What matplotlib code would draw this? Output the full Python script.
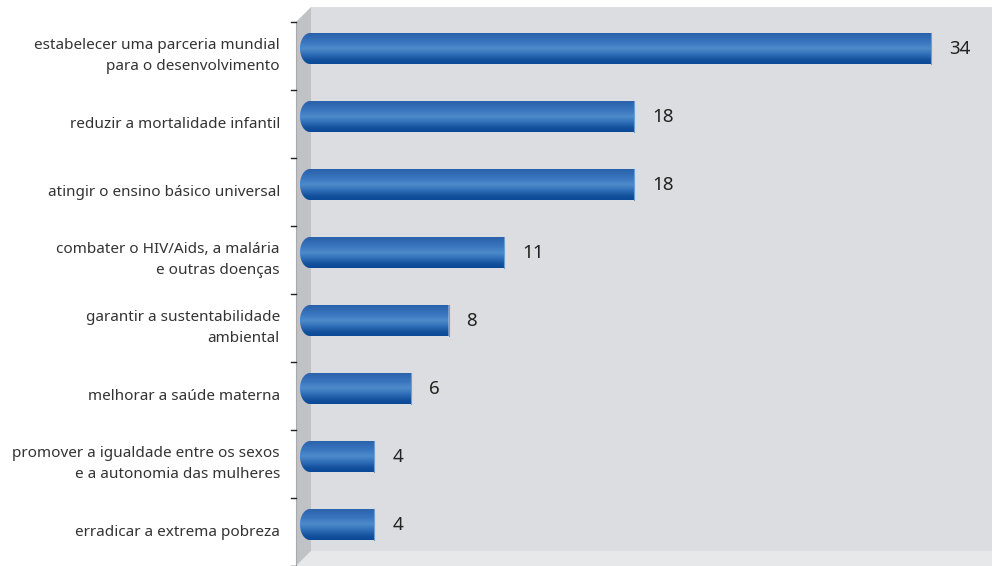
import numpy as np
import matplotlib
matplotlib.use("Agg")
import matplotlib.pyplot as plt
from matplotlib.path import Path
from matplotlib.patches import Polygon, PathPatch
from matplotlib.colors import to_rgb

plt.rcParams['font.family'] = ['Noto Sans', 'DejaVu Sans']

categories = [
    "estabelecer uma parceria mundial\npara o desenvolvimento",
    "reduzir a mortalidade infantil",
    "atingir o ensino básico universal",
    "combater o HIV/Aids, a malária\ne outras doenças",
    "garantir a sustentabilidade\nambiental",
    "melhorar a saúde materna",
    "promover a igualdade entre os sexos\ne a autonomia das mulheres",
    "erradicar a extrema pobreza",
]
values = [34, 18, 18, 11, 8, 6, 4, 4]

W, H = 992, 566
fig = plt.figure(figsize=(W / 100, H / 100), dpi=100)

# --- background "3D" box drawn in pixel coordinates ---
bg = fig.add_axes([0, 0, 1, 1])
bg.set_xlim(0, W)
bg.set_ylim(H, 0)
bg.axis('off')

left, depth, top, floor = 296, 15, 22, 566
back_col = '#dcdde0'
side_col = '#c1c2c5'
floor_col = '#e7e8ea'
# back wall
bg.add_patch(Polygon([(left + depth, top - depth), (W, top - depth),
                      (W, floor - depth), (left + depth, floor - depth)],
                     closed=True, fc=back_col, ec='none', zorder=1))
# floor
bg.add_patch(Polygon([(left, floor), (left + depth, floor - depth),
                      (W, floor - depth), (W, floor)],
                     closed=True, fc=floor_col, ec='none', zorder=1))
# side wall
bg.add_patch(Polygon([(left, top), (left + depth, top - depth),
                      (left + depth, floor - depth), (left, floor)],
                     closed=True, fc=side_col, ec='none', zorder=2))
bg.plot([left, left], [top, floor], color='#a9aaad', lw=0.8, zorder=3)
# category ticks
band = 68
for k in range(len(categories) + 1):
    yy = top + band * k
    bg.plot([left - 5, left], [yy, yy], color='#222222', lw=1.0, zorder=3)

# --- data axes ---
px_per_unit = 18.57
x0_px = 300.0
bar_center0 = 48.5
ax = fig.add_axes([0, 0, 1, 1])
ax.patch.set_alpha(0)
ax.axis('off')
ax.set_xlim(-x0_px / px_per_unit, (W - x0_px) / px_per_unit)
ax.set_ylim((H - bar_center0) / band, -bar_center0 / band)

ypos = np.arange(len(values))
bar_h = 31 / band
bars = ax.barh(ypos, values, height=bar_h, color='none', edgecolor='none')

# cylinder shading, top to bottom
stops = [(0.0, '#2a61ab'), (0.30, '#3a76bf'), (0.50, '#4e8bcc'),
         (0.68, '#3170b9'), (0.88, '#134f9c'), (1.0, '#0a4a96')]
n = 64
t = np.linspace(0, 1, n)
pos = [s[0] for s in stops]
cols = np.array([to_rgb(s[1]) for s in stops])
grad = np.stack([np.interp(t, pos, cols[:, c]) for c in range(3)], axis=1)
grad = grad[:, None, :]

cap = 10 / px_per_unit
for rect, v in zip(bars.patches, values):
    x_l = rect.get_x()
    x_r = x_l + rect.get_width()
    y_t = rect.get_y()
    y_b = y_t + rect.get_height()
    yc = (y_t + y_b) / 2
    hh = rect.get_height() / 2
    ang = np.linspace(np.pi / 2, 3 * np.pi / 2, 40)
    arc = np.column_stack([x_l + cap + cap * np.cos(ang), yc - hh * np.sin(ang)])
    verts = np.vstack([[[x_r, y_t]], [[x_l + cap, y_t]], arc[1:],
                       [[x_l + cap, y_b]], [[x_r, y_b]], [[x_r, y_t]]])
    clip = PathPatch(Path(verts), transform=ax.transData, fc='none', ec='none')
    ax.add_patch(clip)
    im = ax.imshow(grad, extent=(x_l, x_r, y_b, y_t), aspect='auto',
                   interpolation='bilinear', zorder=4)
    im.set_clip_path(clip)
    ax.plot([x_r, x_r], [y_t, y_b], color='#6a9fd8', lw=0.8, zorder=5)
    ax.text(x_r + 18 / px_per_unit, yc + 0.5 / band, f"{v}", ha='left', va='center',
            fontsize=13.5, color='#222222', zorder=6)

# category labels centred on each band
for k, lab in enumerate(categories):
    yy = (top + band * (k + 0.5) - bar_center0) / band
    ax.text((280 - x0_px) / px_per_unit, yy, lab, ha='right', va='center',
            fontsize=11, color='#333333', linespacing=1.5)

fig.savefig('out.png', dpi=100)
